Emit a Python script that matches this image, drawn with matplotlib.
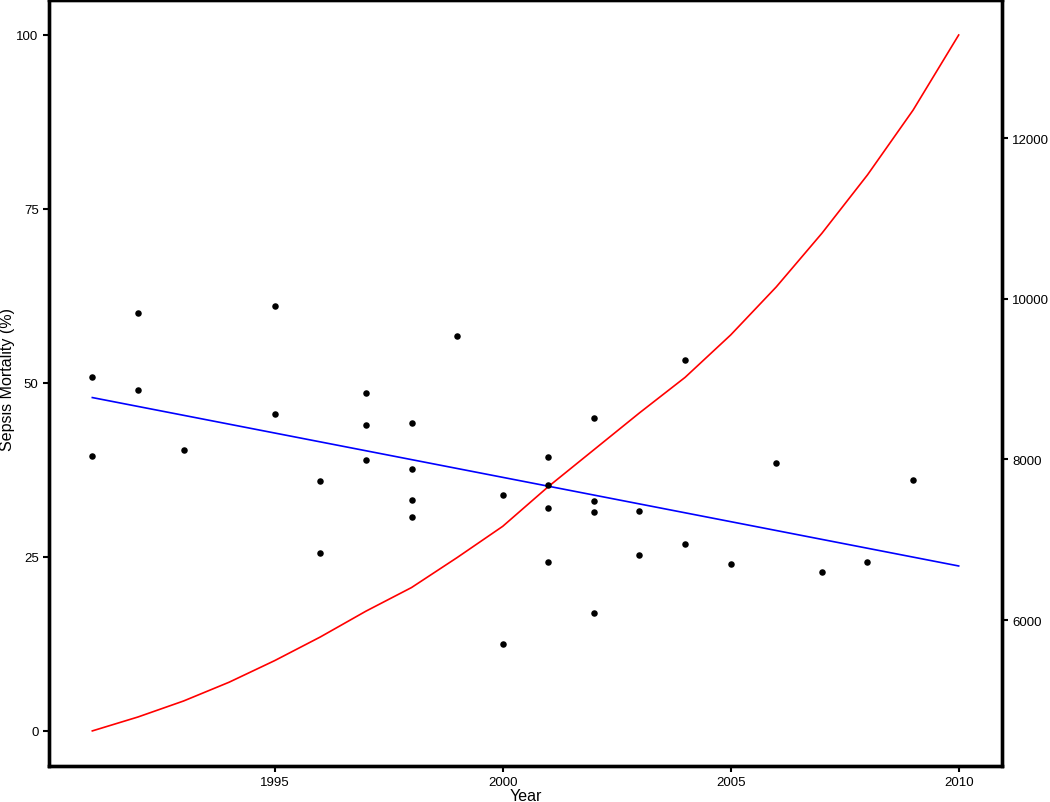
import matplotlib
matplotlib.use("Agg")
import matplotlib.pyplot as plt
import numpy as np

plt.rcParams['font.family'] = ['Liberation Sans', 'DejaVu Sans']

# Study-level sepsis mortality (%) by publication year
point_years = [1991, 1991, 1992, 1992, 1993, 1995, 1995, 1996, 1996,
               1997, 1997, 1997, 1998, 1998, 1998, 1998, 1999,
               2000, 2000, 2001, 2001, 2001, 2001,
               2002, 2002, 2002, 2002, 2003, 2003, 2004, 2004,
               2005, 2006, 2007, 2008, 2009]
point_mortality = [50.9, 39.5, 60.0, 49.0, 40.3, 61.1, 45.5, 35.9, 25.5,
                   48.6, 44.0, 39.0, 44.2, 37.7, 33.2, 30.8, 56.7,
                   33.9, 12.5, 39.3, 35.3, 32.0, 24.3,
                   45.0, 33.0, 31.5, 17.0, 31.6, 25.3, 53.3, 26.9,
                   24.0, 38.5, 22.9, 24.2, 36.0]

# Linear trend of mortality (endpoints)
trend_years = [1991, 2010]
trend_mortality = [47.9, 23.7]

# Incidence curve (right axis)
curve_years = list(range(1991, 2011))
curve_incidence = [4621, 4794, 4993, 5227, 5496, 5790, 6111, 6405, 6778, 7167,
                   7661, 8120, 8579, 9021, 9549, 10147, 10814, 11541, 12347, 13282]

right_ticks = [6000, 8000, 10000, 12000]
left_ticks = [0, 25, 50, 75, 100]
x_ticks = [1995, 2000, 2005, 2010]

fig = plt.figure(figsize=(10.5, 8.03), dpi=100)
ax = fig.add_axes([49/1050, 36.3/803, (1002-49)/1050, (803-36.3-1.2)/803])
ax2 = ax.twinx()

ax.scatter(point_years, point_mortality, s=22, color='black', zorder=3, linewidths=0)
ax.plot(trend_years, trend_mortality, color='#0000FF', lw=1.2, zorder=2)
ax2.plot(curve_years, curve_incidence, color='#FF0000', lw=1.2)

ax.set_xlim(1990.05, 2010.95)
ax.set_ylim(-5, 105)
cmin, cmax = min(curve_incidence), max(curve_incidence)
span = cmax - cmin
ax2.set_ylim(cmin - 0.05 * span, cmax + 0.05 * span)

ax.set_xticks(x_ticks)
ax.set_yticks(left_ticks)
ax2.set_yticks(right_ticks)

for a in (ax, ax2):
    for s in a.spines.values():
        s.set_linewidth(2.4)
    a.tick_params(length=4.5, width=1.5, labelsize=9.5, pad=3, colors='black')

fig.text(525.5/1050, 1.5/803, 'Year', ha='center', va='baseline', fontsize=11.5)
fig.text(8/1050, 1 - 380/803, 'Sepsis Mortality (%)', rotation=90,
         ha='center', va='center', fontsize=11.5)
ax2.set_zorder(ax.get_zorder() - 1)
ax.patch.set_visible(False)

fig.savefig('out.png', dpi=100, facecolor='white')
